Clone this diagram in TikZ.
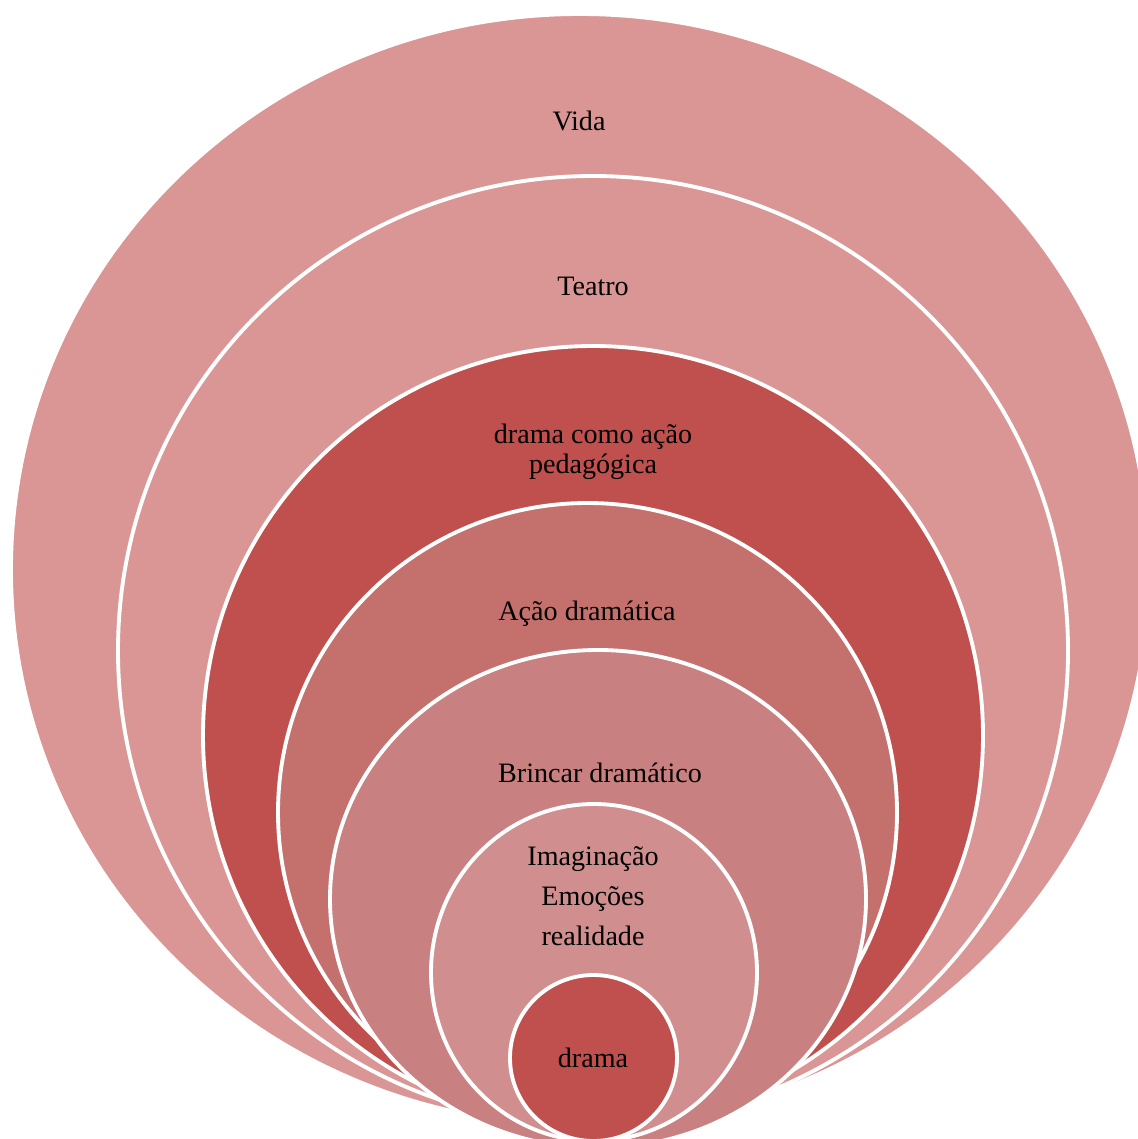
\documentclass[tikz,border=0pt]{standalone}
\usepackage{fontspec}
\setmainfont{Liberation Serif}
\usepackage{tikz}
\usetikzlibrary{positioning}

\definecolor{lightrose}{HTML}{D99694}
\definecolor{brickred}{HTML}{C0504D}
\definecolor{midrose}{HTML}{C4716E}
\definecolor{softrose}{HTML}{C98080}
\definecolor{paleRose}{HTML}{D08F8E}

\begin{document}
\begin{tikzpicture}[
    x=0.02cm, y=-0.02cm,
    ring/.style={draw=white, line width=2.2pt},
    ringtext/.style={font=\fontsize{16}{17}\selectfont, text=black, align=center, inner sep=0pt}
]
\useasboundingbox (0,0) rectangle (1138,1139);
\clip (0,0) rectangle (1138,1139);

% Rings, outside in
\filldraw[ring, fill=lightrose] (580,569.6) ellipse (569 and 555.6);
\filldraw[ring, fill=lightrose] (593,650.5) ellipse (475 and 474.5);
\filldraw[ring, fill=brickred] (593,735.5) ellipse (390 and 389.5);
\filldraw[ring, fill=midrose] (587.5,812.5) ellipse (309.5 and 309.5);
\filldraw[ring, fill=softrose] (598,899) ellipse (268 and 249);
\filldraw[ring, fill=paleRose] (594,972.5) ellipse (163 and 168.5);
\filldraw[ring, fill=brickred] (593.5,1058) ellipse (83.5 and 83);

% Labels
\node[ringtext] (vida) at (579,121) {Vida};
\node[ringtext] (teatro) at (593,286) {Teatro};
\node[ringtext] (pedagogica) at (593,452) {drama como ação\\pedagógica};
\node[ringtext] (acao) at (587,614) {Ação dramática};
\node[ringtext] (brincar) at (600,773) {Brincar dramático};
\node[ringtext, font=\fontsize{16}{22.8}\selectfont] (imaginacao) at (593,896) {Imaginação\\Emoções\\realidade};
\node[ringtext] (drama) at (593,1058) {drama};

\end{tikzpicture}
\end{document}
